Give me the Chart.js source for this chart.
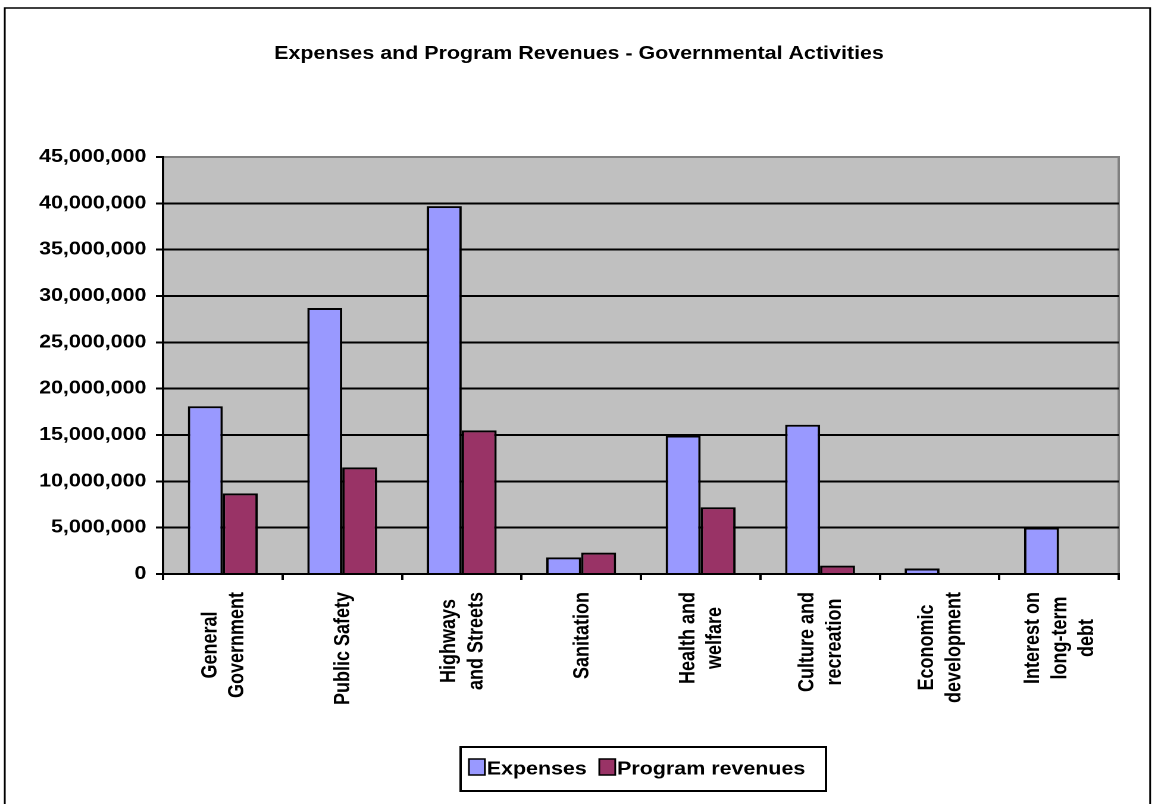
<!DOCTYPE html>
<html>
<head>
<meta charset="utf-8">
<title>Expenses and Program Revenues - Governmental Activities</title>
<script src="https://cdn.jsdelivr.net/npm/chart.js@4"></script>
<style>
  html, body { margin: 0; padding: 0; background: #fff; overflow: hidden; }
</style>
</head>
<body>
<!-- drawn at 973 logical px wide and shown 1158 px wide (wide-format sheet chart) -->
<canvas id="chart" width="973" height="804" style="display:block;width:1158px;height:804px"></canvas>
<script>
const chartTitle = 'Expenses and Program Revenues - Governmental Activities';

// Function categories, each split into the lines of its axis label
const categories = [
  ['General', 'Government'],
  ['Public Safety'],
  ['Highways', 'and Streets'],
  ['Sanitation'],
  ['Health and', 'welfare'],
  ['Culture and', 'recreation'],
  ['Economic', 'development'],
  ['Interest on', 'long-term', 'debt']
];

// Dollars
const expenses        = [18100000, 28700000, 39700000, 1800000, 14950000, 16100000, 600000, 5000000];
const programRevenues = [8700000, 11500000, 15500000, 2300000, 7200000, 900000, 0, 0];

// Value axis ticks
const yTickValues = [0, 5000000, 10000000, 15000000, 20000000, 25000000, 30000000, 35000000, 40000000, 45000000];

const FONT = '"Liberation Sans", Arial, sans-serif';
Chart.defaults.font.family = FONT;
Chart.defaults.color = '#000';

// White page, outer frame and grey plot area
const framePlugin = {
  id: 'frame',
  beforeDraw(chart) {
    const { ctx, chartArea: a } = chart;
    ctx.save();
    ctx.fillStyle = '#fff';
    ctx.fillRect(0, 0, chart.width, chart.height);
    ctx.strokeStyle = '#000';
    ctx.lineWidth = 1.5;
    ctx.strokeRect(4, 8, 962.4, chart.height + 20);
    ctx.fillStyle = '#C0C0C0';
    ctx.fillRect(a.left, a.top, a.right - a.left, a.bottom - a.top);
    ctx.strokeStyle = '#808080';
    ctx.lineWidth = 2;
    ctx.beginPath();
    ctx.moveTo(a.left, a.top);
    ctx.lineTo(a.right, a.top);
    ctx.lineTo(a.right, a.bottom);
    ctx.stroke();
    ctx.restore();
  }
};

// Vertical category labels, lines centred on each other
const categoryLabelPlugin = {
  id: 'categoryLabels',
  afterDraw(chart) {
    const xs = chart.scales.x;
    const ctx = chart.ctx;
    ctx.save();
    ctx.font = 'bold 18px ' + FONT;
    ctx.fillStyle = '#000';
    ctx.textAlign = 'center';
    ctx.textBaseline = 'middle';
    categories.forEach((lines, i) => {
      const x = xs.getPixelForValue(i) + 1;
      const w = Math.max(...lines.map(l => ctx.measureText(l).width));
      ctx.save();
      ctx.translate(x, xs.top + 18);
      ctx.rotate(-Math.PI / 2);
      lines.forEach((l, j) => {
        ctx.fillText(l, -w / 2, (j - (lines.length - 1) / 2) * 22.7);
      });
      ctx.restore();
    });
    ctx.restore();
  }
};

// Boxed legend under the category labels
const boxedLegendPlugin = {
  id: 'boxedLegend',
  afterDraw(chart) {
    const ctx = chart.ctx;
    ctx.save();
    ctx.font = 'bold 18px ' + FONT;
    ctx.textAlign = 'left';
    ctx.textBaseline = 'alphabetic';
    ctx.strokeStyle = '#000';
    ctx.lineWidth = 2;
    ctx.strokeRect(387, 747, 307, 44);
    let x = 394;
    chart.data.datasets.forEach(ds => {
      ctx.fillStyle = ds.backgroundColor;
      ctx.fillRect(x, 759, 13.4, 16);
      ctx.lineWidth = 1.5;
      ctx.strokeStyle = '#000';
      ctx.strokeRect(x, 759, 13.4, 16);
      x += 15;
      ctx.fillStyle = '#000';
      ctx.fillText(ds.label, x, 774.5);
      x += ctx.measureText(ds.label).width + 10.5;
    });
    ctx.restore();
  }
};

new Chart(document.getElementById('chart'), {
  type: 'bar',
  data: {
    labels: categories.map(l => l.join(' ')),
    datasets: [
      {
        label: 'Expenses',
        data: expenses,
        backgroundColor: '#9999FF',
        borderColor: '#000',
        borderWidth: 2
      },
      {
        label: 'Program revenues',
        data: programRevenues,
        backgroundColor: '#993366',
        borderColor: '#000',
        borderWidth: 2
      }
    ]
  },
  options: {
    responsive: false,
    devicePixelRatio: 2,
    animation: false,
    layout: { padding: 0 },
    datasets: {
      bar: { categoryPercentage: 0.585, barPercentage: 1 }
    },
    plugins: {
      legend: { display: false },
      tooltip: { enabled: false },
      title: {
        display: true,
        text: chartTitle,
        color: '#000',
        font: { size: 18, weight: 'bold', lineHeight: 1.2 },
        padding: { top: 43, bottom: 92.4 }
      }
    },
    scales: {
      x: {
        z: 1,
        afterFit(s) { s.height = 230; },
        ticks: { display: false },
        grid: {
          offset: true,
          drawOnChartArea: false,
          drawTicks: true,
          tickLength: 6,
          color: '#000',
          lineWidth: 2
        },
        border: { color: '#000', width: 2 }
      },
      y: {
        min: 0,
        max: 45000000,
        afterFit(s) { s.width = 137; },
        afterBuildTicks(s) { s.ticks = yTickValues.map(v => ({ value: v })); },
        ticks: {
          color: '#000',
          padding: 8,
          font: { size: 18, weight: 'bold' },
          callback: v => Number(v).toLocaleString('en-US')
        },
        grid: {
          color: c => (c.tick && c.tick.value === 45000000) ? '#808080' : '#000',
          lineWidth: 2,
          tickColor: '#000',
          tickLength: 6
        },
        border: { color: '#000', width: 2 }
      },
      // empty margin to the right of the plot, keeps the title centred on the page
      rightMargin: {
        type: 'linear',
        position: 'right',
        min: 0,
        max: 1,
        afterFit(s) { s.width = 33; },
        ticks: { display: false },
        grid: { display: false },
        border: { display: false }
      }
    }
  },
  plugins: [framePlugin, categoryLabelPlugin, boxedLegendPlugin]
});
</script>
</body>
</html>
